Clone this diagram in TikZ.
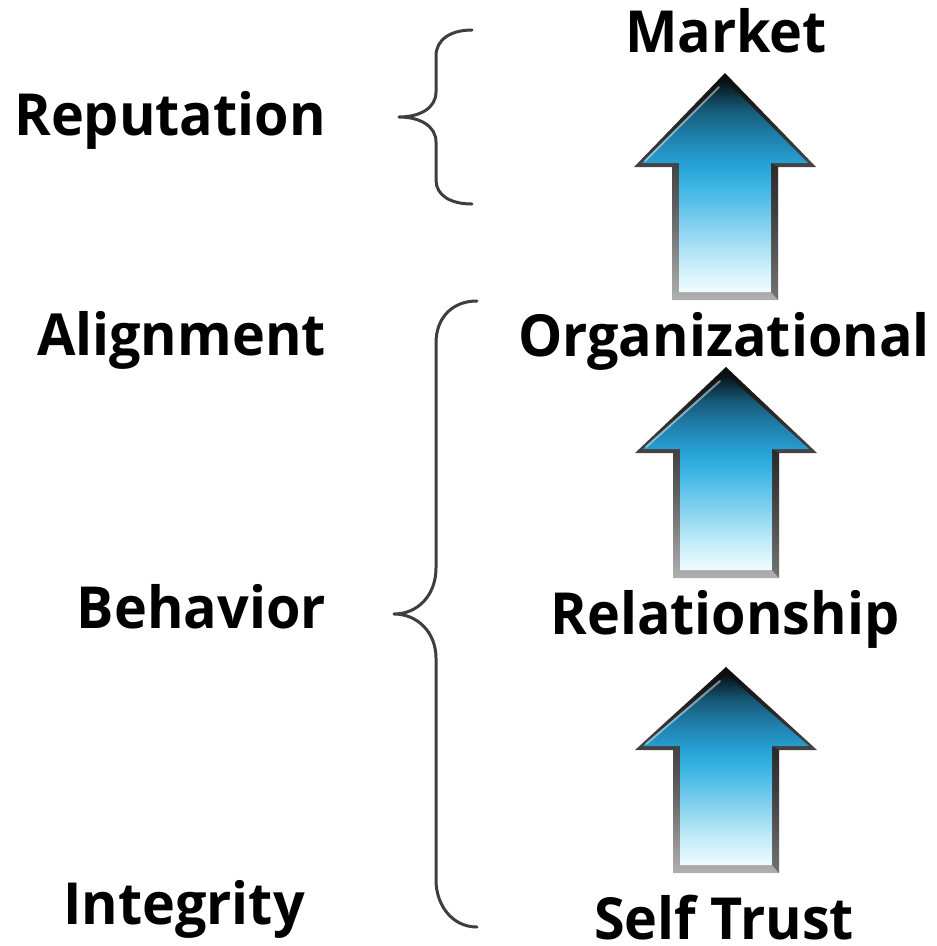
\documentclass[tikz,border=0pt]{standalone}
\usepackage{fontspec}
\setmainfont{Open Sans}[FakeStretch=0.96]

% colours of the block arrows
\definecolor{af0}{HTML}{F0FCFF}
\definecolor{af1}{HTML}{C4ECF8}
\definecolor{af2}{HTML}{7ACDEE}
\definecolor{af3}{HTML}{3DB5E4}
\definecolor{af4}{HTML}{27A2D6}
\definecolor{af5}{HTML}{1F7FAA}
\definecolor{af6}{HTML}{165A78}
\definecolor{af7}{HTML}{061014}
\definecolor{bv0}{HTML}{B0B0B0}
\definecolor{bv1}{HTML}{606060}
\definecolor{bv2}{HTML}{0A0A0A}
\definecolor{bracegray}{HTML}{3E3E3E}

% blue face, light at the foot and dark at the tip
\pgfdeclareverticalshading{arrowface}{100bp}{%
  color(0bp)=(af0); color(25bp)=(af0); color(32bp)=(af1); color(42bp)=(af2);
  color(50bp)=(af3); color(55bp)=(af4); color(62bp)=(af5); color(68bp)=(af6);
  color(75bp)=(af7); color(100bp)=(af7)}
% grey bevelled rim
\pgfdeclareverticalshading{arrowrim}{100bp}{%
  color(0bp)=(bv0); color(25bp)=(bv0); color(45bp)=(bv1); color(75bp)=(bv2);
  color(100bp)=(bv2)}

\tikzset{
  lbl/.style={font=\fontsize{58}{60}\selectfont\bfseries, inner sep=0pt, text=black},
  braceline/.style={draw=bracegray, line width=3pt, line cap=round, line join=round},
}

% #1 centre x, #2 tip y, #3 head base y, #4 foot y
\newcommand\blockarrow[4]{%
  \shade[shading=arrowrim]
    (#1-53,#4) -- (#1-53,#3) -- (#1-91,#3) -- (#1,#2) -- (#1+91,#3)
    -- (#1+53,#3) -- (#1+53,#4) -- cycle;
  \shade[shading=arrowface]
    (#1-46,#4-8) -- (#1-46,#3-4) -- (#1-83,#3-4) -- (#1,#2+7) -- (#1+83,#3-4)
    -- (#1+46,#3-4) -- (#1+46,#4-8) -- cycle;
  % darker right-hand side of the rim
  \fill[black, opacity=0.35]
    (#1+46,#3-4) -- (#1+53,#3) -- (#1+53,#4) -- (#1+46,#4-8) -- cycle;
  % light edge along the left slope of the head
  \draw[white, opacity=0.45, line width=2pt, line cap=round]
    (#1-80,#3-6) -- (#1-6,#2+14);
}

\begin{document}
\begin{tikzpicture}[x=1pt, y=-1pt]
  \useasboundingbox (0,0) rectangle (937,946);

  % left column
  \node[lbl, anchor=base east] (reputation)   at (326,135) {Reputation};
  \node[lbl, anchor=base east] (alignment)    at (326,355) {Alignment};
  \node[lbl, anchor=base east] (behavior)     at (326,628) {Behavior};
  \node[lbl, anchor=base east] (integrity)    at (305,924) {Integrity};

  % right column
  \node[lbl, anchor=base] (market)         at (726,52)  {Market};
  \node[lbl, anchor=base] (organizational) at (724,356) {Organizational};
  \node[lbl, anchor=base] (relationship)   at (725,634) {Relationship};
  \node[lbl, anchor=base, text depth=0pt] (selftrust) at (724,939) {Self Trust};

  % upward block arrows between the levels
  \blockarrow{725}{73}{167}{300}
  \blockarrow{726}{367}{453}{578}
  \blockarrow{726}{667}{750}{873}

  % braces
  \draw[braceline] (472,30) .. controls (450,30) and (436,40) .. (436,56)
    -- (436,92) .. controls (436,108) and (420,117) .. (399,117)
    .. controls (420,117) and (436,126) .. (436,142)
    -- (436,180) .. controls (436,195) and (450,204) .. (472,204);
  \draw[braceline] (477,301) .. controls (452,301) and (436,318) .. (436,343)
    -- (436,568) .. controls (436,595) and (418,614) .. (394,614)
    .. controls (418,614) and (436,633) .. (436,658)
    -- (436,880) .. controls (436,905) and (452,927) .. (477,927);
\end{tikzpicture}
\end{document}
